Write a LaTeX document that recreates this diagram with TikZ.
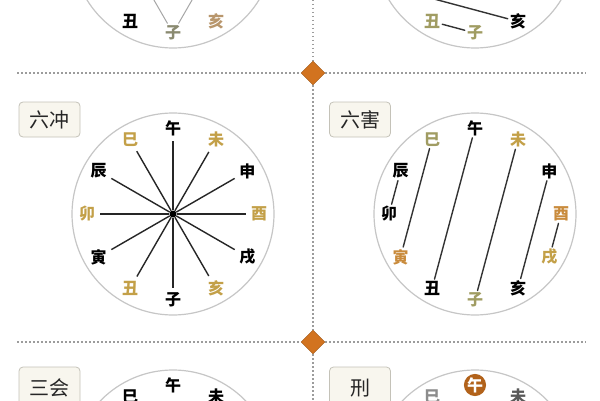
\documentclass[tikz,border=0pt]{standalone}
\usepackage{fontspec}
\newfontfamily\cjk{Noto Sans CJK SC}
\usetikzlibrary{shapes.geometric}
\definecolor{ring}{HTML}{C6C6C6}
\definecolor{sep}{HTML}{9C9C9C}
\definecolor{gold}{HTML}{C3A048}
\definecolor{ochre}{HTML}{C98B3C}
\definecolor{olive}{HTML}{A09C62}
\definecolor{pale}{HTML}{E2CF95}
\definecolor{tan}{HTML}{B8966C}
\definecolor{slate}{HTML}{8A8A70}
\definecolor{amber}{HTML}{D2731F}
\definecolor{tagfill}{HTML}{F8F6EE}
\definecolor{tagline}{HTML}{C4C2B8}
\begin{document}
\begin{tikzpicture}[x=1pt,y=1pt,
  wheel/.style={draw=ring,line width=1.2pt,fill=white},
  br/.style={font=\cjk\bfseries\fontsize{16}{16}\selectfont,inner sep=2pt},
  tagbox/.style={draw=tagline,fill=tagfill,rounded corners=4pt,line width=0.8pt,
    minimum width=61pt,font=\cjk\fontsize{20}{20}\selectfont,text=black!85},
  sepline/.style={draw=sep,line width=1.5pt,dash pattern=on 1.5pt off 2.5pt},
  gem/.style={diamond,fill=amber,draw=amber!75!black,minimum size=24pt,inner sep=0pt},
  spoke/.style={draw=black!85,line width=1.4pt,shorten >=3pt},
  link/.style={draw=black!80,line width=1.4pt,line cap=round}]
\useasboundingbox (0,0) rectangle (600,400);
\clip (0,0) rectangle (600,400);

% separators
\node[gem] (d1) at (313,327) {};
\node[gem] (d2) at (313,58) {};
\coordinate (vt) at (313,400);
\coordinate (vb) at (313,0);
\coordinate (l1) at (17,327);
\coordinate (r1) at (586,327);
\coordinate (l2) at (17,58);
\coordinate (r2) at (586,58);
\path[sepline] (vt) -- (d1);
\path[sepline] (d1) -- (d2);
\path[sepline] (d2) -- (vb);
\path[sepline] (l1) -- (d1);
\path[sepline] (d1) -- (r1);
\path[sepline] (l2) -- (d2);
\path[sepline] (d2) -- (r2);

% tags
\node[tagbox,minimum height=35pt] (t1) at (49.5,280.5) {六冲};
\node[tagbox,minimum height=35pt] (t2) at (360,280.5) {六害};
\node[tagbox,minimum height=42pt] (t3) at (49.5,12) {三会};
\node[tagbox,minimum height=42pt] (t4) at (360,12) {刑};

% top left
\path[wheel] (173,453) circle (101);
\begin{scope}[shift={(173,453)}]
\node[br,text=pale] (s3) at (-150:86) {寅};
\node[br] (s2) at (-120:86) {丑};
\node[br,text=slate] (s1) at (-90:86) {子};
\node[br,text=tan] (s12) at (-60:86) {亥};
\coordinate (s5) at (150:86);
\coordinate (s9) at (30:86);
\path[draw,black!35,line width=1pt] (s1) -- (s5);
\path[draw,black!35,line width=1pt] (s1) -- (s9);
\end{scope}

% top right
\path[wheel] (475,453) circle (101);
\begin{scope}[shift={(475,453)}]
\node[br] (p3) at (-150:86) {寅};
\node[br,text=olive] (p2) at (-120:86) {丑};
\node[br,text=olive] (p1) at (-90:86) {子};
\node[br] (p12) at (-60:86) {亥};
\path[link] (p3) -- (p12);
\path[link] (p2) -- (p1);
\end{scope}

% liu chong
\path[wheel] (173,186) circle (101);
\begin{scope}[shift={(173,186)}]
\node[circle,fill=black,inner sep=0pt,minimum size=7pt] (c0) at (0,0) {};
\node[br] (c1) at (-90:86) {子};
\node[br,text=gold] (c2) at (-120:86) {丑};
\node[br] (c3) at (-150:86) {寅};
\node[br,text=gold] (c4) at (180:86) {卯};
\node[br] (c5) at (150:86) {辰};
\node[br,text=gold] (c6) at (120:86) {巳};
\node[br] (c7) at (90:86) {午};
\node[br,text=gold] (c8) at (60:86) {未};
\node[br] (c9) at (30:86) {申};
\node[br,text=gold] (c10) at (0:86) {酉};
\node[br] (c11) at (-30:86) {戌};
\node[br,text=gold] (c12) at (-60:86) {亥};
\path[spoke] (c0) -- (c1);
\path[spoke] (c0) -- (c2);
\path[spoke] (c0) -- (c3);
\path[spoke] (c0) -- (c4);
\path[spoke] (c0) -- (c5);
\path[spoke] (c0) -- (c6);
\path[spoke] (c0) -- (c7);
\path[spoke] (c0) -- (c8);
\path[spoke] (c0) -- (c9);
\path[spoke] (c0) -- (c10);
\path[spoke] (c0) -- (c11);
\path[spoke] (c0) -- (c12);
\end{scope}

% liu hai
\path[wheel] (475,186) circle (101);
\begin{scope}[shift={(475,186)}]
\node[br,text=olive] (h1) at (-90:86) {子};
\node[br] (h2) at (-120:86) {丑};
\node[br,text=ochre] (h3) at (-150:86) {寅};
\node[br] (h4) at (180:86) {卯};
\node[br] (h5) at (150:86) {辰};
\node[br,text=olive] (h6) at (120:86) {巳};
\node[br] (h7) at (90:86) {午};
\node[br,text=gold] (h8) at (60:86) {未};
\node[br] (h9) at (30:86) {申};
\node[br,text=ochre] (h10) at (0:86) {酉};
\node[br,text=gold] (h11) at (-30:86) {戌};
\node[br] (h12) at (-60:86) {亥};
\path[link] (h5) -- (h4);
\path[link] (h6) -- (h3);
\path[link] (h7) -- (h2);
\path[link] (h8) -- (h1);
\path[link] (h9) -- (h12);
\path[link] (h10) -- (h11);
\end{scope}

% san hui
\path[wheel] (173,-71) circle (101);
\begin{scope}[shift={(173,-71)}]
\node[br] (u6) at (120:86) {巳};
\node[br] (u7) at (90:86) {午};
\node[br] (u8) at (60:86) {未};
\end{scope}

% xing
\path[wheel] (475,-71) circle (101);
\begin{scope}[shift={(475,-71)}]
\node[br,text=black!45] (x6) at (120:86) {巳};
\node[br,circle,fill=amber!85!black,text=white,inner sep=0pt,minimum size=19pt] (x7) at (90:86) {午};
\node[br,text=black!65] (x8) at (60:86) {未};
\end{scope}
\end{tikzpicture}
\end{document}
